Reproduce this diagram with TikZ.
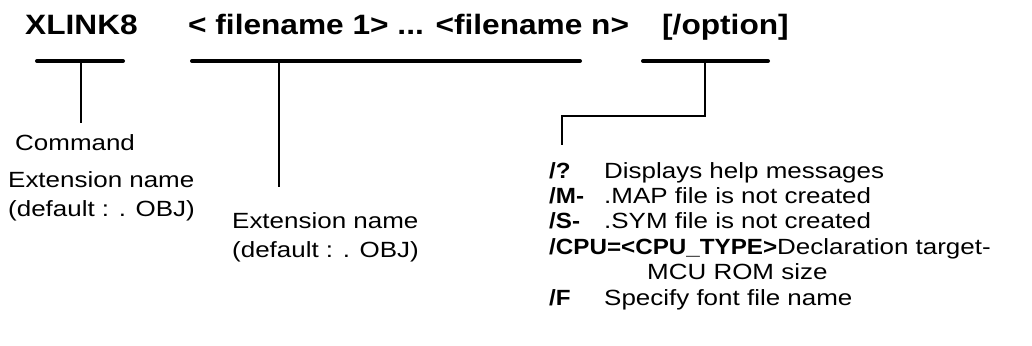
\documentclass[tikz,border=0pt]{standalone}
\usepackage{fontspec}
\setmainfont{Liberation Sans}[FakeStretch=1.18]
\newfontfamily\headfont{Liberation Sans}[FakeStretch=1.13]
\newfontfamily\keyfont{Liberation Sans}[FakeStretch=1.1]
\usetikzlibrary{positioning}

\tikzset{
  txt/.style={anchor=base west, inner sep=0pt, font=\fontsize{22}{26}\selectfont},
  head/.style={anchor=base west, inner sep=0pt, font=\fontsize{28}{32}\headfont\bfseries},
  bar/.style={line width=4pt, line cap=round},
  lead/.style={line width=1.4pt}
}
\newcommand{\optkey}[1]{\makebox[55pt][l]{\keyfont\bfseries #1}}

\begin{document}
\begin{tikzpicture}[x=1pt, y=-1pt]
  \useasboundingbox (0,0) rectangle (1032,345);

  % command line
  \node[head] (cmd) at (25,35) {XLINK8};
  \node[head] (files) at (188,35) {< filename 1> ... <filename n>};
  \node[head] (opt) at (662,35) {[/option]};

  % underlines
  \draw[bar] (37,61) -- (123,61);
  \draw[bar] (192,61) -- (580,61);
  \draw[bar] (643,61) -- (768,61);

  % leads
  \coordinate (cmdtop) at (81,61);
  \coordinate (cmdend) at (81,123);
  \coordinate (filetop) at (279,61);
  \coordinate (fileend) at (279,187);
  \coordinate (opttop) at (705,61);
  \coordinate (optbend) at (705,116);
  \coordinate (optleft) at (562,116);
  \coordinate (optend) at (562,145);
  \draw[lead] (cmdtop) -- (cmdend);
  \draw[lead] (filetop) -- (fileend);
  \draw[lead] (opttop) -- (optbend) -- (optleft) -- (optend);

  % command labels
  \node[txt] (cmdlbl) at (15,150) {Command};
  \node[txt] (ext1) at (8,187) {Extension name};
  \node[txt] (def1) at (8,216) {(default : . OBJ)};

  % filename labels
  \node[txt] (ext2) at (232,228) {Extension name};
  \node[txt] (def2) at (232,257) {(default : . OBJ)};

  % option list
  \node[txt] (help) at (549,178) {\optkey{/?}Displays help messages};
  \node[txt] (map) at (549,203) {\optkey{/M-}.MAP file is not created};
  \node[txt] (sym) at (549,228) {\optkey{/S-}.SYM file is not created};
  \node[txt] (cpu) at (549,254) {{\keyfont\bfseries /CPU=<CPU\_TYPE>}Declaration target-};
  \node[txt] (rom) at (647,279) {MCU ROM size};
  \node[txt] (font) at (549,305) {\optkey{/F}Specify font file name};
\end{tikzpicture}
\end{document}
